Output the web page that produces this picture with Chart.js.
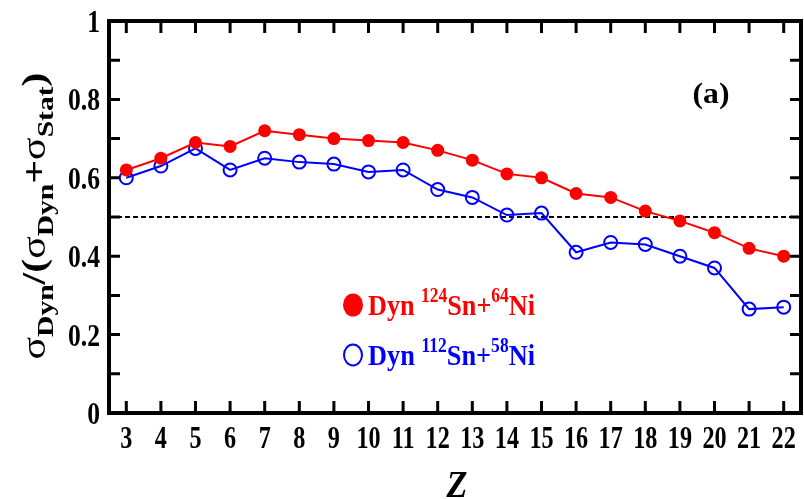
<!DOCTYPE html>
<html>
<head>
<meta charset="utf-8">
<script src="https://cdn.jsdelivr.net/npm/chart.js@4.4.1/dist/chart.umd.min.js"></script>
<style>
  html, body { margin: 0; padding: 0; background: #fff; }
  #wrap { width: 804px; height: 499px; }
</style>
</head>
<body>
<div id="wrap"><canvas id="chart" width="804" height="499"></canvas></div>
<script>
// data
const zValues = [3, 4, 5, 6, 7, 8, 9, 10, 11, 12, 13, 14, 15, 16, 17, 18, 19, 20, 21, 22];
const dyn124 = [0.62, 0.65, 0.69, 0.68, 0.72, 0.71, 0.70, 0.695, 0.69, 0.67, 0.645, 0.61, 0.60, 0.56, 0.55, 0.515, 0.49, 0.46, 0.42, 0.40];
const dyn112 = [0.60, 0.63, 0.675, 0.62, 0.65, 0.64, 0.635, 0.615, 0.62, 0.57, 0.55, 0.505, 0.51, 0.41, 0.435, 0.43, 0.40, 0.37, 0.265, 0.27];
const refLevel = 0.5;
const yTicks = [0, 0.2, 0.4, 0.6, 0.8, 1];
const yTickLabels = ['0', '0.2', '0.4', '0.6', '0.8', '1'];
const yMinorTicks = [0.1, 0.3, 0.5, 0.7, 0.9];
const xMin = 2.5, xMax = 22.5;

const RED = 'rgb(255,0,0)';
const BLUE = 'rgb(0,0,255)';
const SERIF = '"Liberation Serif", "DejaVu Serif", serif';

// draws a row of text runs (for sub/superscripts), squeezed horizontally
function drawRuns(ctx, runs, x, y, opts) {
  let w = 0;
  runs.forEach(r => {
    ctx.font = (r.style || 'bold') + ' ' + r.size + 'px ' + SERIF;
    r.w = ctx.measureText(r.t).width;
    w += r.w;
  });
  let sx = opts.sx || 1;
  if (opts.width) sx = opts.width / w;
  ctx.save();
  ctx.translate(x, y);
  ctx.scale(sx, 1);
  let cx = 0;
  if (opts.align === 'center') cx = -w / 2;
  else if (opts.align === 'right') cx = -w;
  ctx.fillStyle = opts.color || '#000';
  ctx.textBaseline = 'alphabetic';
  ctx.textAlign = 'left';
  runs.forEach(r => {
    ctx.font = (r.style || 'bold') + ' ' + r.size + 'px ' + SERIF;
    ctx.fillText(r.t, cx, r.dy || 0);
    cx += r.w;
  });
  ctx.restore();
}

const framePlugin = {
  id: 'frame',
  afterDatasetsDraw(chart) {
    const ctx = chart.ctx;
    const a = chart.chartArea;
    const xs = chart.scales.x, ys = chart.scales.y;
    ctx.save();
    ctx.strokeStyle = '#000';
    ctx.lineWidth = 4;
    ctx.strokeRect(a.left, a.top, a.right - a.left, a.bottom - a.top);

    // inward ticks
    ctx.lineWidth = 3;
    ctx.beginPath();
    zValues.forEach(z => {
      const px = xs.getPixelForValue(z);
      ctx.moveTo(px, a.bottom); ctx.lineTo(px, a.bottom - 12);
      ctx.moveTo(px, a.top); ctx.lineTo(px, a.top + 12);
    });
    yTicks.concat(yMinorTicks).forEach(v => {
      const py = ys.getPixelForValue(v);
      ctx.moveTo(a.left, py); ctx.lineTo(a.left + 11, py);
      ctx.moveTo(a.right, py); ctx.lineTo(a.right - 11, py);
    });
    ctx.stroke();

    // tick labels
    zValues.forEach(z => {
      drawRuns(ctx, [{ t: String(z), size: 31 }], xs.getPixelForValue(z), 448, { align: 'center', sx: 0.78 });
    });
    yTicks.forEach((v, i) => {
      drawRuns(ctx, [{ t: yTickLabels[i], size: 32 }], 100, ys.getPixelForValue(v) + 11, { align: 'right', sx: 0.8 });
    });

    // axis titles
    drawRuns(ctx, [{ t: 'Z', size: 38, style: 'bold italic' }], 457, 497, { align: 'center', sx: 0.9 });
    ctx.save();
    ctx.translate(45, 216);
    ctx.rotate(-Math.PI / 2);
    drawRuns(ctx, [
      { t: 'σ', size: 34, style: 'normal' },
      { t: 'Dyn', size: 24, dy: 8 },
      { t: '/(', size: 34 },
      { t: 'σ', size: 34, style: 'normal' },
      { t: 'Dyn', size: 24, dy: 8 },
      { t: '+', size: 34 },
      { t: 'σ', size: 34, style: 'normal' },
      { t: 'Stat', size: 24, dy: 8 },
      { t: ')', size: 34 }
    ], 0, 0, { align: 'center', width: 287 });
    ctx.restore();

    // panel label
    drawRuns(ctx, [{ t: '(a)', size: 29 }], 711, 103, { align: 'center', width: 37 });

    // legend
    ctx.fillStyle = RED;
    ctx.beginPath();
    ctx.ellipse(353, 305, 10, 11.5, 0, 0, Math.PI * 2);
    ctx.fill();
    drawRuns(ctx, [
      { t: 'Dyn ', size: 30 },
      { t: '124', size: 20, dy: -13 },
      { t: 'Sn+', size: 30 },
      { t: '64', size: 20, dy: -13 },
      { t: 'Ni', size: 30 }
    ], 368, 315, { width: 167, color: RED });

    ctx.strokeStyle = BLUE;
    ctx.lineWidth = 2;
    ctx.beginPath();
    ctx.ellipse(353, 355, 9, 10.5, 0, 0, Math.PI * 2);
    ctx.stroke();
    drawRuns(ctx, [
      { t: 'Dyn ', size: 30 },
      { t: '112', size: 20, dy: -13 },
      { t: 'Sn+', size: 30 },
      { t: '58', size: 20, dy: -13 },
      { t: 'Ni', size: 30 }
    ], 368, 365, { width: 167, color: BLUE });

    ctx.restore();
  }
};

const ctx = document.getElementById('chart').getContext('2d');
new Chart(ctx, {
  type: 'line',
  data: {
    datasets: [
      {
        label: 'ref',
        data: [{ x: xMin, y: refLevel }, { x: xMax, y: refLevel }],
        borderColor: '#000',
        borderWidth: 2,
        borderDash: [5, 3],
        pointRadius: 0,
        order: 3
      },
      {
        label: 'Dyn 112Sn+58Ni',
        data: zValues.map((z, i) => ({ x: z, y: dyn112[i] })),
        borderColor: BLUE,
        borderWidth: 2,
        pointRadius: 6.5,
        pointBorderWidth: 2,
        pointBorderColor: BLUE,
        pointBackgroundColor: 'rgba(255,255,255,0)',
        order: 2
      },
      {
        label: 'Dyn 124Sn+64Ni',
        data: zValues.map((z, i) => ({ x: z, y: dyn124[i] })),
        borderColor: RED,
        borderWidth: 2,
        pointRadius: 6.5,
        pointBorderWidth: 0,
        pointBackgroundColor: RED,
        order: 1
      }
    ]
  },
  options: {
    responsive: false,
    animation: false,
    layout: { autoPadding: false, padding: { left: 109, right: 3, top: 21, bottom: 86 } },
    plugins: { legend: { display: false }, tooltip: { enabled: false } },
    scales: {
      x: { type: 'linear', min: xMin, max: xMax, display: false },
      y: { min: 0, max: 1, display: false }
    }
  },
  plugins: [framePlugin]
});
</script>
</body>
</html>
